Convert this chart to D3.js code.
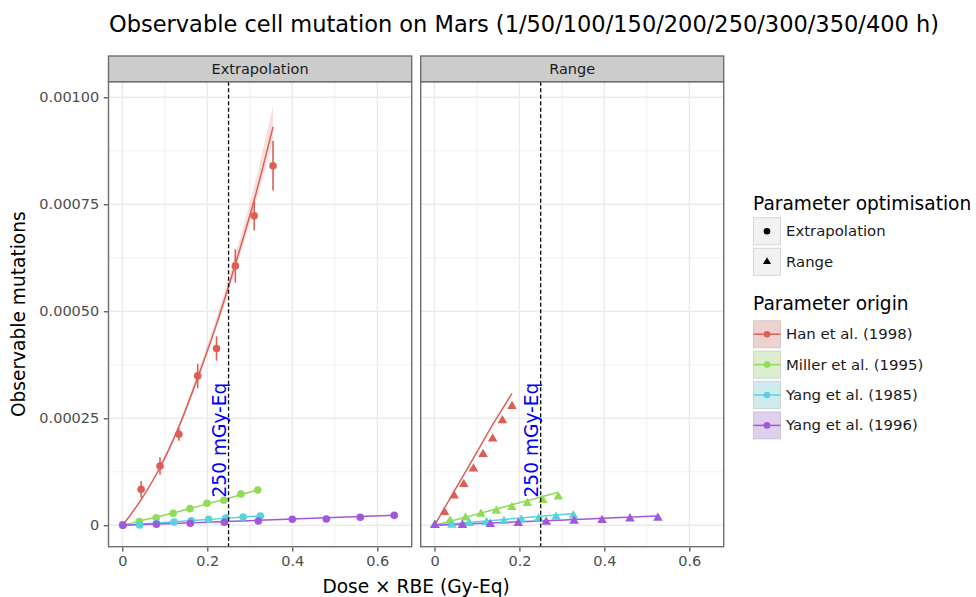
<!DOCTYPE html>
<html>
<head>
<meta charset="utf-8">
<script src="https://cdn.jsdelivr.net/npm/d3@7"></script>
<style>
  html, body { margin: 0; padding: 0; background: #fff; }
  svg { display: block; font-family: "DejaVu Sans", sans-serif; }
</style>
</head>
<body>
<svg id="chart" width="976" height="597"></svg>
<script>
// ---------------- DATA ----------------
const panels = ["Extrapolation", "Range"];
const origins = ["Han et al. (1998)", "Miller et al. (1995)", "Yang et al. (1985)", "Yang et al. (1996)"];
const colors = ["#db5f57", "#91db57", "#57d3db", "#a157db"];

// Extrapolation panel: dose (x), observed (y), fit line
const extX = [
  [0.0009, 0.0443, 0.0887, 0.1330, 0.1774, 0.2217, 0.2660, 0.3104, 0.3547],
  [0.0008, 0.0399, 0.0797, 0.1196, 0.1594, 0.1993, 0.2391, 0.2790, 0.3188],
  [0.0008, 0.0406, 0.0812, 0.1218, 0.1624, 0.2030, 0.2436, 0.2842, 0.3248],
  [0.0016, 0.0800, 0.1600, 0.2400, 0.3200, 0.4000, 0.4800, 0.5600, 0.6400]
];
const extY = [
  [0.000001, 0.0000841, 0.0001385, 0.0002126, 0.000349, 0.000413, 0.000606, 0.000723, 0.00084],
  [0.0000005, 0.0000085, 0.0000178, 0.000028, 0.0000389, 0.0000514, 0.0000584, 0.0000731, 0.0000825],
  [0, 0.0000007, 0.000004, 0.0000077, 0.0000107, 0.000014, 0.000017, 0.0000194, 0.0000217],
  [0, 0.0000023, 0.0000047, 0.000007, 0.00001, 0.000014, 0.0000147, 0.0000187, 0.0000233]
];
const extErr = [0.000001, 0.0000195, 0.0000206, 0.0000148, 0.0000284, 0.0000284, 0.000039, 0.0000339, 0.0000576];
const extFit = [
  [0, 0.000060, 0.000135, 0.000230, 0.000345, 0.000470, 0.000610, 0.000760, 0.000931],
  [0, 0.0000098, 0.000019, 0.0000285, 0.000039, 0.000050, 0.0000605, 0.0000715, 0.0000828],
  [0, 0.0000028, 0.0000055, 0.0000083, 0.000011, 0.0000138, 0.0000165, 0.0000192, 0.000022],
  [0, 0.0000029, 0.0000058, 0.0000087, 0.0000117, 0.0000146, 0.0000175, 0.0000204, 0.0000233]
];
const extFitLo = [0, 0.000058, 0.000131, 0.000224, 0.000337, 0.000459, 0.000595, 0.000740, 0.000900];
const extFitHi = [0, 0.000062, 0.000139, 0.000237, 0.000356, 0.000486, 0.000633, 0.000793, 0.000981];

// Range panel
const rngX = [
  [0.0005, 0.0234, 0.0461, 0.0689, 0.0917, 0.1143, 0.1370, 0.1600, 0.1825],
  [0.0005, 0.0365, 0.0730, 0.1093, 0.1457, 0.1822, 0.2187, 0.2550, 0.2915],
  [0.0008, 0.0410, 0.0818, 0.1227, 0.1636, 0.2045, 0.2454, 0.2863, 0.3272],
  [0.0013, 0.0657, 0.1315, 0.1972, 0.2630, 0.3287, 0.3945, 0.4602, 0.5260]
];
const rngY = [
  [0, 0.0000304, 0.0000692, 0.0000957, 0.000132, 0.000166, 0.000202, 0.000245, 0.000278],
  [0, 0.0000108, 0.0000178, 0.0000264, 0.0000334, 0.000042, 0.0000514, 0.0000584, 0.0000668],
  [0, 0.0000008, 0.0000047, 0.000007, 0.0000093, 0.000013, 0.0000155, 0.0000194, 0.0000225],
  [0, 0.0000003, 0.0000023, 0.0000047, 0.0000078, 0.00001, 0.0000117, 0.0000155, 0.000017]
];
const rngFit = [
  [0, 0.000040, 0.000079, 0.000118, 0.000157, 0.000196, 0.000235, 0.000272, 0.000308],
  [0, 0.0000095, 0.000019, 0.0000285, 0.000038, 0.0000478, 0.0000575, 0.0000672, 0.000077],
  [0, 0.0000034, 0.0000068, 0.0000103, 0.0000137, 0.0000172, 0.0000206, 0.000024, 0.0000275],
  [0, 0.0000027, 0.0000054, 0.0000081, 0.0000108, 0.0000135, 0.0000163, 0.000019, 0.0000217]
];

const xTicks = [0, 0.2, 0.4, 0.6];
const xTickLabels = ["0", "0.2", "0.4", "0.6"];
const xMinor = [0.1, 0.3, 0.5];
const yTicks = [0, 0.00025, 0.0005, 0.00075, 0.001];
const yTickLabels = ["0", "0.00025", "0.00050", "0.00075", "0.00100"];
const yMinor = [0.000125, 0.000375, 0.000625, 0.000875];
const refDose = 0.25;
const refLabel = "250 mGy-Eq";
const shapeLabels = ["Extrapolation", "Range"];

// ---------------- LAYOUT ----------------
const svg = d3.select("#chart");
const W = 976, H = 597;
const panelTop = 81.7, panelBottom = 546.7, stripTop = 56;
const panelBoxes = [[108.5, 411.7], [420.7, 723.7]];
const xDomain = [-0.0325, 0.681];
const yDomain = [-0.00005, 0.0010364];
const FONT = "DejaVu Sans";

const y = d3.scaleLinear().domain(yDomain).range([panelBottom, panelTop]);

svg.append("rect").attr("width", W).attr("height", H).attr("fill", "#fff");

// Title
svg.append("text").attr("x", 109).attr("y", 32)
  .attr("font-size", 22.5).attr("fill", "#000")
  .text("Observable cell mutation on Mars (1/50/100/150/200/250/300/350/400 h)");

const triangle = d3.symbol().type(d3.symbolTriangle).size(40);

panels.forEach((pname, pi) => {
  const [L, R] = panelBoxes[pi];
  const x = d3.scaleLinear().domain(xDomain).range([L, R]);
  const g = svg.append("g");

  // panel background
  g.append("rect").attr("x", L).attr("y", panelTop).attr("width", R - L).attr("height", panelBottom - panelTop).attr("fill", "#fff");

  // grid
  const clip = g.append("g");
  xMinor.forEach(v => clip.append("line").attr("x1", x(v)).attr("x2", x(v)).attr("y1", panelTop).attr("y2", panelBottom).attr("stroke", "#ebebeb").attr("stroke-width", 0.7));
  yMinor.forEach(v => clip.append("line").attr("x1", L).attr("x2", R).attr("y1", y(v)).attr("y2", y(v)).attr("stroke", "#ebebeb").attr("stroke-width", 0.7));
  xTicks.forEach(v => clip.append("line").attr("x1", x(v)).attr("x2", x(v)).attr("y1", panelTop).attr("y2", panelBottom).attr("stroke", "#ebebeb").attr("stroke-width", 1.4));
  yTicks.forEach(v => clip.append("line").attr("x1", L).attr("x2", R).attr("y1", y(v)).attr("y2", y(v)).attr("stroke", "#ebebeb").attr("stroke-width", 1.4));

  const X = pi === 0 ? extX : rngX;
  const Y = pi === 0 ? extY : rngY;
  const F = pi === 0 ? extFit : rngFit;

  // ribbon (Han, extrapolation)
  if (pi === 0) {
    const area = d3.area().x((d, i) => x(extX[0][i])).y0((d, i) => y(extFitLo[i])).y1((d, i) => y(extFitHi[i])).curve(d3.curveMonotoneX);
    g.append("path").datum(extFitLo).attr("d", area).attr("fill", colors[0]).attr("fill-opacity", 0.2);
  }

  // fit lines
  origins.forEach((o, si) => {
    const line = d3.line().x((d, i) => x(X[si][i])).y(d => y(d)).curve(d3.curveMonotoneX);
    g.append("path").datum(F[si]).attr("d", line).attr("fill", "none").attr("stroke", colors[si]).attr("stroke-width", 1.5);
  });

  // error bars
  if (pi === 0) {
    extX[0].forEach((xv, i) => {
      g.append("line").attr("x1", x(xv)).attr("x2", x(xv))
        .attr("y1", y(extY[0][i] - extErr[i])).attr("y2", y(extY[0][i] + extErr[i]))
        .attr("stroke", colors[0]).attr("stroke-width", 1.6);
    });
  }

  // points
  origins.forEach((o, si) => {
    X[si].forEach((xv, i) => {
      if (pi === 0) {
        g.append("circle").attr("cx", x(xv)).attr("cy", y(Y[si][i])).attr("r", 3.8).attr("fill", colors[si]);
      } else {
        g.append("path").attr("d", triangle).attr("transform", `translate(${x(xv)},${y(Y[si][i])})`).attr("fill", colors[si]);
      }
    });
  });

  // reference line + label
  g.append("line").attr("x1", x(refDose)).attr("x2", x(refDose)).attr("y1", panelTop).attr("y2", panelBottom)
    .attr("stroke", "#000").attr("stroke-width", 1.3).attr("stroke-dasharray", "4,2.5");
  g.append("text").attr("transform", `translate(${x(refDose) - 2.6},${y(0.000065)}) rotate(-90)`)
    .attr("font-size", 18.6).attr("fill", "#0000ff").text(refLabel);

  // panel border
  g.append("rect").attr("x", L).attr("y", panelTop).attr("width", R - L).attr("height", panelBottom - panelTop)
    .attr("fill", "none").attr("stroke", "#6e6e6e").attr("stroke-width", 1.4);

  // strip
  g.append("rect").attr("x", L).attr("y", stripTop).attr("width", R - L).attr("height", panelTop - stripTop)
    .attr("fill", "#cccccc").attr("stroke", "#6e6e6e").attr("stroke-width", 1.4);
  g.append("text").attr("x", (L + R) / 2).attr("y", (stripTop + panelTop) / 2 + 0.5).attr("text-anchor", "middle")
    .attr("dominant-baseline", "central").attr("font-size", 14.5).attr("fill", "#1a1a1a").text(pname);

  // x axis
  const xAxis = d3.axisBottom(x).tickValues(xTicks).tickFormat((d, i) => xTickLabels[i]).tickSize(4).tickPadding(4);
  const xa = g.append("g").attr("transform", `translate(0,${panelBottom + 0.7})`).call(xAxis);
  xa.select(".domain").remove();
  xa.selectAll("line").attr("stroke", "#333").attr("stroke-width", 1.1);
  xa.selectAll("text").attr("font-family", FONT).attr("font-size", 14.5).attr("fill", "#4d4d4d");

  if (pi === 0) {
    const yAxis = d3.axisLeft(y).tickValues(yTicks).tickFormat((d, i) => yTickLabels[i]).tickSize(4).tickPadding(4.5);
    const ya = g.append("g").attr("transform", `translate(${L - 0.7},0)`).call(yAxis);
    ya.select(".domain").remove();
    ya.selectAll("line").attr("stroke", "#333").attr("stroke-width", 1.1);
    ya.selectAll("text").attr("font-family", FONT).attr("font-size", 14.5).attr("fill", "#4d4d4d");
  }
});

// axis titles
svg.append("text").attr("x", (panelBoxes[0][0] + panelBoxes[1][1]) / 2).attr("y", 593).attr("text-anchor", "middle")
  .attr("font-size", 18.6).attr("fill", "#000").text("Dose × RBE (Gy-Eq)");
svg.append("text").attr("transform", `translate(25,${(panelTop + panelBottom) / 2}) rotate(-90)`).attr("text-anchor", "middle")
  .attr("font-size", 18.6).attr("fill", "#000").text("Observable mutations");

// ---------------- LEGENDS ----------------
const lg = svg.append("g");
const keyX = 753.5, keySize = 27, labX = 786;
lg.append("text").attr("x", 753).attr("y", 210).attr("font-size", 18.6).attr("fill", "#000").text("Parameter optimisation");
const shapeKeyY = [217.7, 248.3];
shapeLabels.forEach((s, i) => {
  const ky = shapeKeyY[i];
  lg.append("rect").attr("x", keyX).attr("y", ky).attr("width", keySize).attr("height", keySize)
    .attr("fill", "#f2f2f2").attr("stroke", "#d6d6d6").attr("stroke-width", 1);
  const cx = keyX + keySize / 2, cy = ky + keySize / 2;
  if (i === 0) lg.append("circle").attr("cx", cx).attr("cy", cy).attr("r", 3.3).attr("fill", "#000");
  else lg.append("path").attr("d", d3.symbol().type(d3.symbolTriangle).size(28)).attr("transform", `translate(${cx},${cy})`).attr("fill", "#000");
  lg.append("text").attr("x", labX).attr("y", cy).attr("dominant-baseline", "central").attr("font-size", 14.9).attr("fill", "#1a1a1a").text(s);
});

lg.append("text").attr("x", 753).attr("y", 310).attr("font-size", 18.6).attr("fill", "#000").text("Parameter origin");
const originKeyY = [320.7, 351.1, 381.5, 411.9];
origins.forEach((o, i) => {
  const ky = originKeyY[i];
  lg.append("rect").attr("x", keyX).attr("y", ky).attr("width", keySize).attr("height", keySize)
    .attr("fill", "#f2f2f2").attr("stroke", "#d6d6d6").attr("stroke-width", 1);
  lg.append("rect").attr("x", keyX).attr("y", ky).attr("width", keySize).attr("height", keySize)
    .attr("fill", colors[i]).attr("fill-opacity", 0.22);
  const cy = ky + keySize / 2;
  lg.append("line").attr("x1", keyX).attr("x2", keyX + keySize).attr("y1", cy).attr("y2", cy).attr("stroke", colors[i]).attr("stroke-width", 1.5);
  lg.append("circle").attr("cx", keyX + keySize / 2).attr("cy", cy).attr("r", 3.3).attr("fill", colors[i]);
  lg.append("text").attr("x", labX).attr("y", cy).attr("dominant-baseline", "central").attr("font-size", 14.9).attr("fill", "#1a1a1a").text(o);
});
</script>
</body>
</html>
